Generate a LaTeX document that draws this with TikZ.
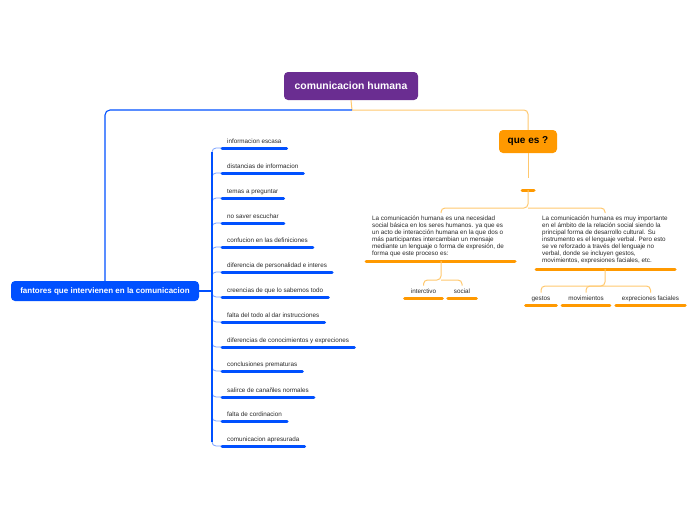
\documentclass[tikz,border=0pt]{standalone}
\usepackage{fontspec}
\setmainfont{Liberation Sans}
\definecolor{cpurple}{RGB}{106,45,145}
\definecolor{cblue}{RGB}{0,80,255}
\definecolor{cbluel}{RGB}{120,160,255}
\definecolor{corange}{RGB}{255,153,0}
\definecolor{corangel}{RGB}{255,200,110}
\definecolor{ctext}{RGB}{40,40,40}
\begin{document}
\begin{tikzpicture}[x=1pt,y=-1pt,
 titlebox/.style={fill=cpurple, rounded corners=4pt, text=white, font=\fontsize{10.4}{12}\selectfont\bfseries, minimum width=134pt, minimum height=28pt, inner sep=0pt},
 bluebox/.style={fill=cblue, rounded corners=4pt, text=white, font=\fontsize{8}{10}\selectfont\bfseries, minimum width=188pt, minimum height=20pt, inner sep=0pt},
 orangebox/.style={fill=corange, rounded corners=4pt, text=black, font=\fontsize{10}{12}\selectfont\bfseries, minimum width=58pt, minimum height=23pt, inner sep=0pt},
 itembox/.style={anchor=south west, inner xsep=5pt, inner ysep=3pt, text height=4.6pt, text depth=1.3pt, font=\fontsize{6.3}{7}\selectfont, text=ctext},
 subbox/.style={anchor=south, inner xsep=6pt, inner ysep=3pt, text height=4.6pt, text depth=1.3pt, font=\fontsize{6.3}{7}\selectfont, text=ctext},
 parabox/.style={anchor=north west, align=left, inner sep=0pt, font=\fontsize{6.3}{7}\selectfont, text=ctext},
 bline/.style={cblue, line width=1.1pt},
 bbranch/.style={cbluel, line width=0.8pt, rounded corners=4pt},
 bunder/.style={cblue, line width=3pt, line cap=round},
 oline/.style={corangel, line width=1pt, rounded corners=4pt},
 ounder/.style={corange, line width=3pt, line cap=round},
]
\useasboundingbox (0,0) rectangle (696,520);

% main nodes
\node[titlebox] (root) at (351,86) {comunicacion humana};
\node[bluebox] (fant) at (105,291) {fantores que intervienen en la comunicacion};
\node[orangebox] (que) at (528,141.5) {que es ?};

\coordinate (rj) at (352,110);
\draw[oline] (root.south) -- (rj);
\draw[bline, rounded corners=5pt] (rj) -| (fant.north);
\draw[oline] (rj) -| (que.north);

% left branch items
\coordinate (trunk) at (212,291);
\draw[bline] (fant.east) -- (trunk);
\foreach \yy/\txt [count=\n] in {148/informacion escasa, 173/distancias de informacion, 198/temas a preguntar, 223/no saver escuchar, 247/confucion en las definiciones, 272/diferencia de personalidad e interes, 297/creencias de que lo sabemos todo, 322/falta del todo al dar instrucciones, 347/diferencias de conocimientos y expreciones, 371/conclusiones prematuras, 397/salirce de canañles normales, 421/falta de cordinacion, 446/comunicacion apresurada} {
  \node[itembox] (i\n) at (222,\yy) {\txt};
  \draw[bbranch] (trunk) |- (i\n.south west);
  \draw[bunder] (i\n.south west) -- (i\n.south east);
}
\draw[bline] ([yshift=-4pt]trunk |- i1.south west) -- ([yshift=4pt]trunk |- i13.south west);

% right branch
\coordinate (bar) at (528,190);
\draw[oline] (que.south) -- ([yshift=12pt]bar);
\draw[ounder] ([xshift=-6pt]bar) -- ([xshift=6pt]bar);

\node[parabox] (p1) at (372,216) {La comunicación humana es una necesidad\\social básica en los seres humanos. ya que es\\un acto de interacción humana en la que dos o\\más participantes intercambian un mensaje\\mediante un lenguaje o forma de expresión, de\\forma que este proceso es:};
\node[parabox] (p2) at (542,216) {La comunicación humana es muy importante\\en el ámbito de la relación social siendo la\\principal forma de desarrollo cultural. Su\\instrumento es el lenguaje verbal. Pero esto\\se ve reforzado a través del lenguaje no\\verbal, donde se incluyen gestos,\\movimientos, expresiones faciales, etc.};

\coordinate (bj) at (528,208);
\coordinate (p1top) at (441,213);
\coordinate (p2top) at (605,213);
\draw[oline] (bar) -- (bj) -| (p1top);
\draw[oline] (bj) -| (p2top);

\coordinate (u1) at (441,261);
\coordinate (u2) at (605,269);
\draw[ounder] (366,261) -- (515,261);
\draw[ounder] (536,269) -- (675,269);

% sub items
\node[subbox] (s1) at (423.5,298) {interctivo};
\node[subbox] (s2) at (462,298) {social};
\node[subbox] (s3) at (541,305) {gestos};
\node[subbox] (s4) at (586,305) {movimientos};
\node[subbox] (s5) at (650.5,305) {expreciones faciales};
\foreach \s in {s1,s2,s3,s4,s5} {
  \draw[ounder] (\s.south west) -- (\s.south east);
}
\coordinate (j1) at (441,280);
\coordinate (j2) at (605,286);
\draw[oline] (u1) -- (j1) -| (s1.north);
\draw[oline] (j1) -| (s2.north);
\draw[oline] (u2) -- (j2) -| (s3.north);
\draw[oline] (j2) -| (s4.north);
\draw[oline] (j2) -| (s5.north);
\end{tikzpicture}
\end{document}
